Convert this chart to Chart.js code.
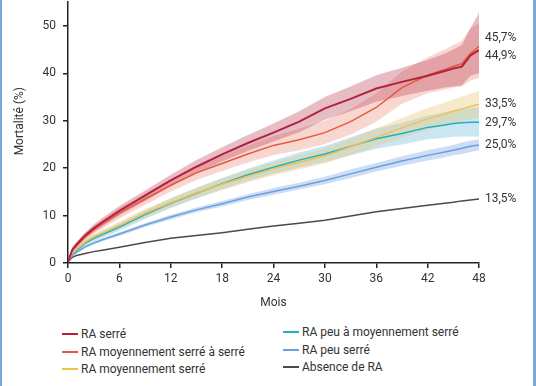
<!DOCTYPE html>
<html>
<head>
<meta charset="utf-8">
<script src="https://cdn.jsdelivr.net/npm/chart.js@4.4.1/dist/chart.umd.min.js"></script>
<style>
  html, body { margin: 0; padding: 0; background: #fff; }
  #wrap { position: relative; width: 536px; height: 386px; overflow: hidden; font-family: Roboto, "DejaVu Sans", sans-serif; color: #333; }
  #chart { position: absolute; left: 0; top: -12px; }
  .edge { position: absolute; top: 0; width: 3px; height: 386px; background: #76a9dc; }
  .leg { position: absolute; font-size: 12px; line-height: 14px; white-space: nowrap; }
  .leg span { display: inline-block; width: 16px; height: 2px; vertical-align: middle; margin-right: 3px; margin-top: -2px; }
</style>
</head>
<body>
<div id="wrap">
  <canvas id="chart" width="536" height="322"></canvas>
  <div class="edge" style="left:0;width:2px"></div>
  <div class="edge" style="left:533px"></div>
  <div id="legend"></div>
</div>
<script>
// mois de suivi
const months = [0, 0.5, 1, 2, 3, 4, 6, 9, 12, 15, 18, 21, 24, 27, 30, 33, 36, 39, 42, 44, 45, 46, 47, 48];
const xTicks = [0, 6, 12, 18, 24, 30, 36, 42, 48];
const yTicks = [0, 10, 20, 30, 40, 50];

// RA serré
const serre   = [0.3, 2.8, 3.9, 5.8, 7.3, 8.6, 11.0, 14.2, 17.4, 20.3, 22.9, 25.3, 27.5, 29.8, 32.6, 34.6, 36.8, 38.2, 39.5, 40.5, 41.0, 41.4, 43.8, 44.9];
const serreLo = [0.2, 2.3, 3.3, 5.1, 6.5, 7.7, 10.0, 13.1, 16.2, 18.9, 21.4, 23.6, 25.6, 27.6, 30.2, 32.0, 34.0, 35.2, 36.3, 37.0, 37.2, 37.5, 39.5, 40.0];
const serreHi = [0.5, 3.3, 4.5, 6.5, 8.1, 9.5, 12.0, 15.3, 18.6, 21.7, 24.4, 27.0, 29.4, 32.0, 35.0, 37.2, 39.6, 41.2, 42.8, 44.2, 45.0, 46.0, 49.5, 52.8];
// RA moyennement serré à serré
const moySerre   = [0.3, 2.6, 3.7, 5.5, 7.0, 8.2, 10.5, 13.5, 16.4, 19.0, 21.0, 23.0, 24.8, 26.0, 27.5, 29.8, 32.8, 37.0, 39.6, 40.8, 41.5, 42.0, 44.2, 45.7];
const moySerreLo = [0.2, 2.1, 3.1, 4.8, 6.2, 7.3, 9.4, 12.3, 15.1, 17.5, 19.4, 21.2, 22.8, 23.8, 25.1, 27.1, 29.8, 33.6, 35.8, 36.6, 37.0, 37.2, 38.5, 39.0];
const moySerreHi = [0.5, 3.1, 4.3, 6.2, 7.8, 9.1, 11.6, 14.7, 17.7, 20.5, 22.6, 24.8, 26.8, 28.3, 30.0, 32.5, 35.8, 40.4, 43.4, 45.0, 46.0, 46.8, 49.5, 50.5];
// RA moyennement serré
const moy   = [0.3, 2.0, 2.9, 4.4, 5.5, 6.3, 7.9, 10.5, 12.7, 14.8, 16.6, 18.3, 19.9, 21.2, 22.6, 24.5, 26.5, 28.5, 30.4, 31.4, 32.0, 32.5, 33.0, 33.5];
const moyLo = [0.2, 1.6, 2.4, 3.8, 4.8, 5.6, 7.1, 9.6, 11.7, 13.7, 15.4, 17.0, 18.5, 19.7, 21.0, 22.8, 24.6, 26.4, 28.1, 29.0, 29.5, 29.9, 30.3, 30.7];
const moyHi = [0.4, 2.4, 3.4, 5.0, 6.2, 7.0, 8.7, 11.4, 13.7, 15.9, 17.8, 19.6, 21.3, 22.7, 24.2, 26.2, 28.4, 30.6, 32.7, 33.8, 34.5, 35.1, 35.7, 36.3];
// RA peu à moyennement serré
const peuMoy   = [0.3, 1.9, 2.7, 4.2, 5.2, 6.0, 7.6, 10.2, 12.6, 14.7, 16.7, 18.6, 20.2, 21.7, 23.0, 24.6, 26.2, 27.3, 28.6, 29.1, 29.4, 29.6, 29.7, 29.7];
const peuMoyLo = [0.2, 1.5, 2.2, 3.6, 4.5, 5.3, 6.8, 9.3, 11.6, 13.6, 15.5, 17.3, 18.8, 20.1, 21.3, 22.7, 24.1, 25.0, 26.1, 26.4, 26.6, 26.7, 26.7, 26.6];
const peuMoyHi = [0.4, 2.3, 3.2, 4.8, 5.9, 6.7, 8.4, 11.1, 13.6, 15.8, 17.9, 19.9, 21.6, 23.3, 24.7, 26.5, 28.3, 29.6, 31.1, 31.8, 32.2, 32.5, 32.7, 32.8];
// RA peu serré
const peu   = [0.3, 1.6, 2.3, 3.4, 4.2, 4.9, 6.1, 8.0, 9.7, 11.2, 12.5, 13.9, 15.1, 16.2, 17.4, 18.8, 20.2, 21.5, 22.7, 23.4, 23.8, 24.2, 24.6, 24.9];
const peuLo = [0.2, 1.4, 2.0, 3.1, 3.9, 4.6, 5.7, 7.6, 9.2, 10.7, 11.9, 13.3, 14.4, 15.5, 16.6, 17.9, 19.3, 20.5, 21.6, 22.3, 22.7, 23.0, 23.4, 23.7];
const peuHi = [0.4, 1.8, 2.6, 3.7, 4.5, 5.2, 6.5, 8.4, 10.2, 11.7, 13.1, 14.5, 15.8, 16.9, 18.2, 19.7, 21.1, 22.5, 23.8, 24.5, 24.9, 25.4, 25.8, 26.1];
// Absence de RA
const absence = [0.2, 1.2, 1.6, 2.0, 2.4, 2.7, 3.3, 4.3, 5.2, 5.8, 6.4, 7.1, 7.8, 8.4, 9.0, 9.9, 10.8, 11.5, 12.2, 12.6, 12.8, 13.1, 13.3, 13.5];

const endLabels = ["45,7%", "44,9%", "33,5%", "29,7%", "25,0%", "13,5%"];
const endValues = [45.7, 44.9, 33.5, 29.7, 25.0, 13.5];

const series = [
   {name: "RA serré", data: serre, lo: serreLo, hi: serreHi, color: "#b3213f", band: "rgba(180,50,75,0.32)", w: 2},
   {name: "RA moyennement serré à serré", data: moySerre, lo: moySerreLo, hi: moySerreHi, color: "#e8583f", band: "rgba(232,110,90,0.28)", w: 1.5},
   {name: "RA moyennement serré", data: moy, lo: moyLo, hi: moyHi, color: "#f0c050", band: "rgba(232,196,110,0.35)", w: 1.5},
   {name: "RA peu à moyennement serré", data: peuMoy, lo: peuMoyLo, hi: peuMoyHi, color: "#1fb0c4", band: "rgba(95,180,215,0.33)", w: 1.5},
   {name: "RA peu serré", data: peu, lo: peuLo, hi: peuHi, color: "#6c9fe0", band: "rgba(120,165,225,0.38)", w: 1.5},
   {name: "Absence de RA", data: absence, color: "#4a4a4a", w: 1.5},
];

function pts(arr) { return months.map((m, i) => ({x: m, y: arr[i]})); }

const datasets = [];
for (const s of series) {
   datasets.push({label: s.name, data: pts(s.data), borderColor: s.color, borderWidth: s.w, pointRadius: 0, fill: false, tension: 0});
}
for (const s of series) {
   if (!s.lo) continue;
   datasets.push({label: s.name + " lo", data: pts(s.lo), borderWidth: 0, borderColor: "transparent", pointRadius: 0, fill: false});
   datasets.push({label: s.name + " hi", data: pts(s.hi), borderWidth: 0, borderColor: "transparent", pointRadius: 0, fill: "-1", backgroundColor: s.band});
}

const extras = {
   id: "extras",
   afterDraw(chart) {
      const ctx = chart.ctx, y = chart.scales.y, area = chart.chartArea;
      const nudge = [-8, 6, 0, 1, 1, 0];
      ctx.save();
      ctx.fillStyle = "#333";
      ctx.font = "12px Roboto";
      ctx.textBaseline = "middle";
      ctx.textAlign = "left";
      endLabels.forEach((t, i) => ctx.fillText(t, area.right + 6, y.getPixelForValue(endValues[i]) + nudge[i]));
      ctx.translate(20, area.top + 119);
      ctx.rotate(-Math.PI / 2);
      ctx.textAlign = "center";
      ctx.fillText("Mortalité (%)", 0, 0);
      ctx.restore();
   }
};

new Chart(document.getElementById("chart"), {
   type: "line",
   data: {datasets: datasets},
   options: {
      responsive: false,
      animation: false,
      layout: {padding: {top: 0, right: 57, left: 0, bottom: 0}},
      plugins: {legend: {display: false}, tooltip: {enabled: false}, filler: {drawTime: "beforeDatasetsDraw"}},
      scales: {
         x: {
            type: "linear", min: 0, max: 48,
            afterBuildTicks: s => { s.ticks = xTicks.map(v => ({value: v})); },
            afterFit: s => { s.height = 47; },
            grid: {drawOnChartArea: false, drawTicks: true, tickLength: 5, color: "#222", lineWidth: 1.5},
            border: {color: "#222", width: 1.5},
            ticks: {color: "#333", font: {family: "Roboto", size: 12}, padding: 4, maxRotation: 0},
            title: {display: true, text: "Mois", color: "#333", font: {family: "Roboto", size: 12}, padding: {top: 0, bottom: 0}}
         },
         y: {
            min: 0, max: 55,
            afterBuildTicks: s => { s.ticks = yTicks.map(v => ({value: v})); },
            afterFit: s => { s.width = 68; },
            grid: {drawOnChartArea: false, drawTicks: true, tickLength: 5, color: "#222", lineWidth: 1.5},
            border: {color: "#222", width: 1.5},
            ticks: {color: "#333", font: {family: "Roboto", size: 12}, padding: 7}
         }
      }
   },
   plugins: [extras]
});

// légende en deux colonnes
const legendPos = [[62, 327], [62, 345], [62, 362], [283, 325], [283, 343], [283, 360]];
document.getElementById("legend").innerHTML = series.map((s, i) =>
   `<div class="leg" style="left:${legendPos[i][0]}px;top:${legendPos[i][1]}px"><span style="background:${s.color}"></span>${s.name}</div>`
).join("");
</script>
</body>
</html>
